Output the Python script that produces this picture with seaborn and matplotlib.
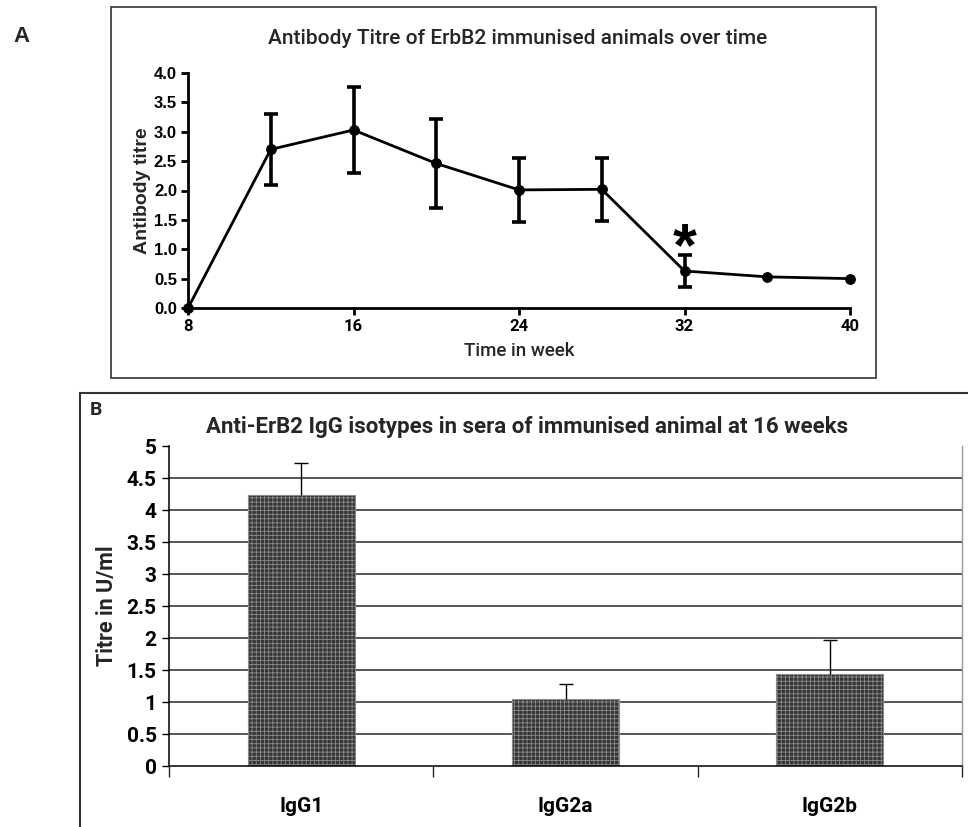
import numpy as np
import pandas as pd
import matplotlib
matplotlib.use("Agg")
import matplotlib.pyplot as plt
import seaborn as sns
from matplotlib.lines import Line2D

# ---- data: panel A ----
weeks = [8, 12, 16, 20, 24, 28, 32, 36, 40]
titre = [0.0, 2.70, 3.03, 2.46, 2.01, 2.02, 0.63, 0.53, 0.50]
titre_err = [0.0, 0.61, 0.74, 0.76, 0.54, 0.54, 0.27, 0.0, 0.0]
x_ticks_a = [8, 16, 24, 32, 40]
y_ticks_a = [0.0, 0.5, 1.0, 1.5, 2.0, 2.5, 3.0, 3.5, 4.0]

# ---- data: panel B ----
isotypes = ["IgG1", "IgG2a", "IgG2b"]
isotype_titre = [4.23, 1.05, 1.43]
isotype_err = [0.50, 0.23, 0.54]
y_ticks_b = [0, 0.5, 1, 1.5, 2, 2.5, 3, 3.5, 4, 4.5, 5]
y_ticklabels_b = ["0", "0.5", "1", "1.5", "2", "2.5", "3", "3.5", "4", "4.5", "5"]

sns.set_style("white")
plt.rcParams['font.family'] = ['Roboto', 'DejaVu Sans']
plt.rcParams['hatch.linewidth'] = 0.6

ARIAL = ['Liberation Sans', 'DejaVu Sans']
CAL = ['Roboto', 'DejaVu Sans']

W, H = 968, 827
fig = plt.figure(figsize=(W / 100, H / 100), dpi=100)

def fx(px):
    return px / W

def fy(py):
    return 1 - py / H

# ---------------- Panel A ----------------
axA = fig.add_axes([fx(188), fy(308), fx(850) - fx(188), fy(73) - fy(308)])
dfA = pd.DataFrame({"week": weeks, "titre": titre})
sns.lineplot(data=dfA, x="week", y="titre", ax=axA, color="black", lw=2,
             marker="o", markersize=7, markeredgecolor="black", clip_on=False)
mask = np.array(titre_err) > 0
axA.errorbar(np.array(weeks)[mask], np.array(titre)[mask], yerr=np.array(titre_err)[mask],
             fmt="none", ecolor="black", elinewidth=2.6, capsize=5, capthick=2.6, clip_on=False)
axA.set_xlim(8, 40)
axA.set_ylim(0, 4.0)
axA.set_xticks(x_ticks_a)
axA.set_yticks(y_ticks_a)
axA.set_yticklabels([f"{v:.1f}" for v in y_ticks_a], family=ARIAL,
                    fontweight='bold', fontsize=12)
axA.set_xticklabels([str(v) for v in x_ticks_a], family=CAL, fontweight='bold', fontsize=12)
for s in ["top", "right"]:
    axA.spines[s].set_visible(False)
for s in ["left", "bottom"]:
    axA.spines[s].set_linewidth(2)
    axA.spines[s].set_color("black")
axA.tick_params(axis="both", direction="out", length=5, width=2, colors="black", pad=3,
                left=True, bottom=True)
axA.set_xlabel("Time in week", family=CAL, fontsize=13.5, fontweight='medium', labelpad=6)
axA.set_ylabel("Antibody titre", family=ARIAL, fontweight='bold', fontsize=14, labelpad=2)
axA.text(32, 1.0, "*", ha="center", va="center", fontsize=44, fontweight="bold",
         color="black", family=ARIAL)
fig.text(fx(518), fy(38), "Antibody Titre of ErbB2 immunised animals over time",
         ha="center", va="center", fontsize=15, fontweight='medium', family=CAL)

# ---------------- Panel B ----------------
axB = fig.add_axes([fx(169), fy(766), fx(962) - fx(169), fy(446) - fy(766)])
dfB = pd.DataFrame({"isotype": isotypes, "titre": isotype_titre})
for yv in y_ticks_b[1:-1]:
    axB.axhline(yv, color="#3a3a3a", lw=1.2, zorder=0)
sns.barplot(data=dfB, x="isotype", y="titre", ax=axB, color="#353535", saturation=1,
            width=0.405, edgecolor="#8a8a8a", linewidth=0.8, hatch="++++", zorder=2, errorbar=None)
eb = axB.errorbar(range(len(isotypes)), isotype_titre,
                  yerr=[np.zeros(len(isotypes)), isotype_err],
                  fmt="none", ecolor="black", elinewidth=1, capsize=5, capthick=1, zorder=3)
for cl in eb[1]:
    if np.allclose(cl.get_ydata(), isotype_titre):
        cl.set_visible(False)
axB.set_xlim(-0.5, 2.5)
axB.set_ylim(0, 5)
axB.set_yticks(y_ticks_b)
axB.set_yticklabels(y_ticklabels_b, family=CAL, fontweight='bold', fontsize=15)
axB.set_xticks(range(len(isotypes)))
axB.set_xticklabels(isotypes, family=CAL, fontweight='bold', fontsize=15)
axB.set_xticks([-0.5, 0.5, 1.5, 2.5], minor=True)
axB.tick_params(axis="x", which="major", length=0, pad=22, colors="black")
axB.tick_params(axis="x", which="minor", length=8, width=1, direction="out", bottom=True)
axB.tick_params(axis="y", which="major", length=5, width=1, direction="out", left=True,
                colors="black", pad=4)
axB.spines["top"].set_visible(False)
axB.spines["right"].set_color("#999999")
axB.spines["right"].set_linewidth(1)
for s in ["left", "bottom"]:
    axB.spines[s].set_color("black")
    axB.spines[s].set_linewidth(1.1)
axB.set_xlabel("")
axB.set_ylabel("Titre in U/ml", family=CAL, fontweight='bold', fontsize=15.5, labelpad=6)
fig.text(fx(527), fy(427), "Anti-ErB2 IgG isotypes in sera of immunised animal at 16 weeks",
         ha="center", va="center", fontsize=16, fontweight='bold', family=CAL)

# ---------------- panel frames and letters ----------------
fig.add_artist(plt.Rectangle((fx(111), fy(378)), fx(876) - fx(111), fy(7) - fy(378),
                             fill=False, edgecolor="#333333", lw=1.2, transform=fig.transFigure))
fig.add_artist(Line2D([fx(80), 1.0], [fy(393), fy(393)], color="#333333", lw=1.5,
                      transform=fig.transFigure))
fig.add_artist(Line2D([fx(80), fx(80)], [fy(393), 0.0], color="#333333", lw=1.5,
                      transform=fig.transFigure))
fig.text(fx(21), fy(37), "A", ha="center", va="center", fontsize=16, fontweight="bold",
         family=ARIAL)
fig.text(fx(96), fy(410), "B", ha="center", va="center", fontsize=14, fontweight="bold",
         family=CAL)

fig.savefig("out.png", dpi=100, facecolor="white")
